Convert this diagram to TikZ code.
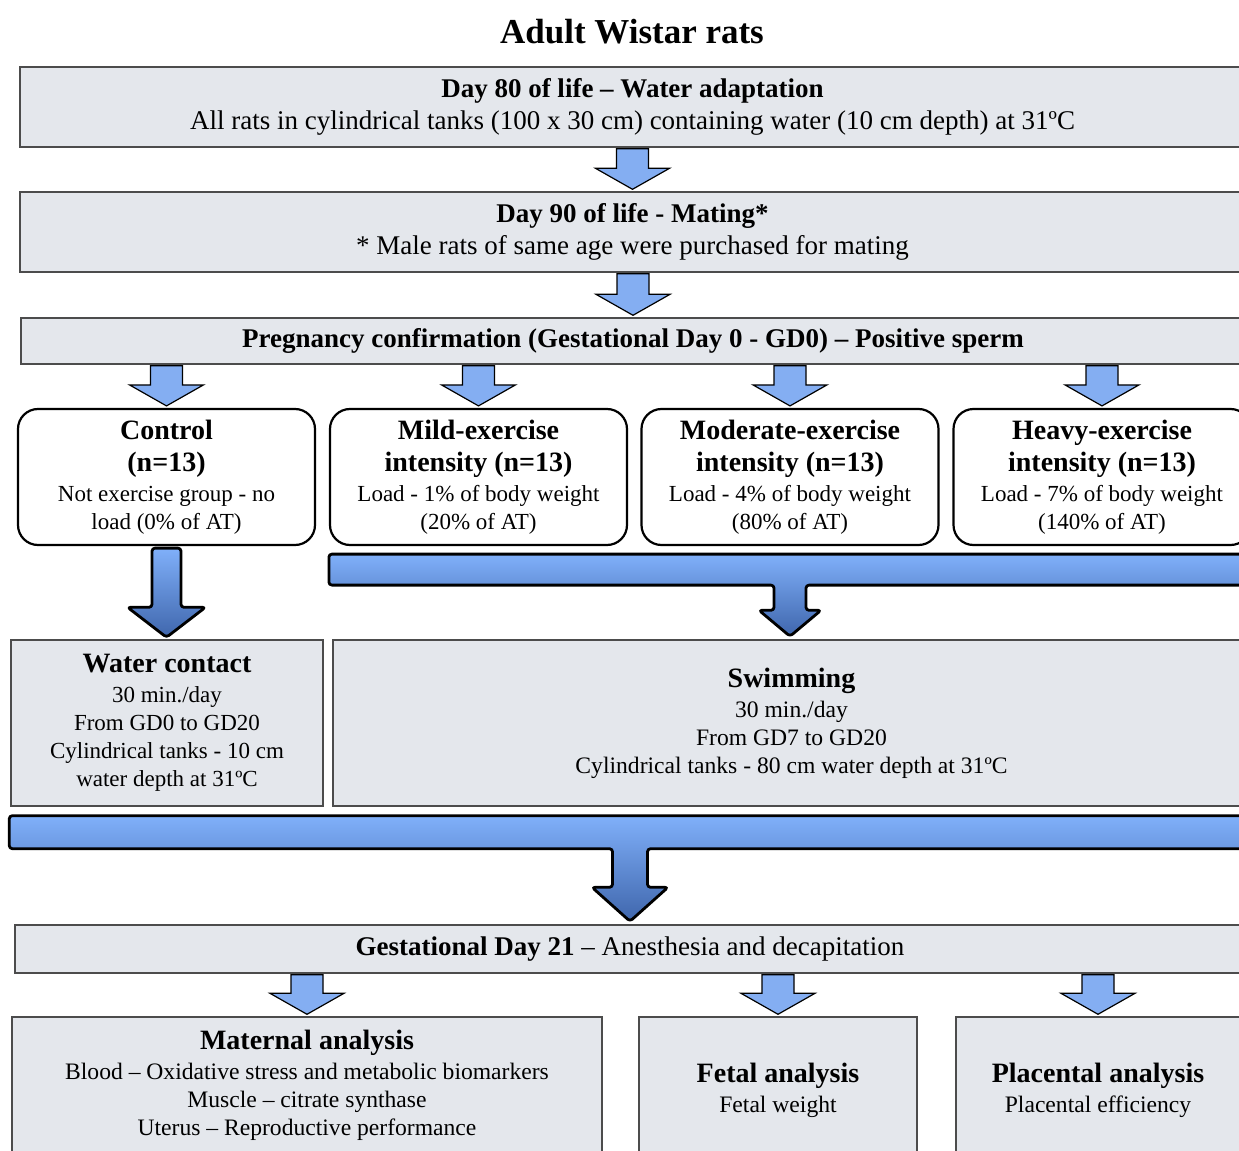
\documentclass[tikz,border=0pt]{standalone}
\usepackage{fontspec}
\setmainfont{Liberation Serif}
\usepackage{xcolor}
\usetikzlibrary{calc,positioning}

\definecolor{boxgrey}{HTML}{E4E7EC}
\definecolor{arrlight}{HTML}{84AEF2}
\definecolor{arrtop}{HTML}{80B0FA}
\definecolor{arrbot}{HTML}{3F66AC}

% small block arrow between two boxes
\newcommand{\smallarrow}[2]{%
  \draw[smallarr] let \p1=(#2.north), \p2=(#1.south) in
    (\x1-8pt,\y2-0.5pt) -- (\x1+8pt,\y2-0.5pt) -- (\x1+8pt,\y1+11.5pt)
    -- (\x1+18.5pt,\y1+11.5pt) -- (\x1,\y1+1pt) -- (\x1-18.5pt,\y1+11.5pt)
    -- (\x1-8pt,\y1+11.5pt) -- cycle;}

\begin{document}
\begin{tikzpicture}[
    x=0.5pt, y=-0.5pt,
    gbox/.style={draw=black!70, line width=0.7pt, fill=boxgrey, align=center, inner sep=0pt,
      font=\fontsize{13.5}{16}\selectfont},
    grp/.style={draw, rounded corners=10pt, line width=1.1pt, fill=white, align=center, inner sep=0pt,
      minimum width=148.5pt, minimum height=68pt, font=\fontsize{11.5}{14}\selectfont},
    smallarr/.style={draw=black, line width=0.6pt, fill=arrlight},
    bigarr/.style={draw=black, line width=1.4pt, top color=arrtop, bottom color=arrbot,
      rounded corners=1.5pt, line join=round}
]
\useasboundingbox (0,0) rectangle (1239,1151);
\clip (0,0) rectangle (1239,1151);

% Title
\node[font=\fontsize{17.5}{20}\selectfont\bfseries] (title) at (632,32) {Adult Wistar rats};

% Preparation steps
\node[gbox, minimum width=612.5pt, minimum height=40pt] (adapt) at (632.5,107)
  {\textbf{Day 80 of life – Water adaptation}\\All rats in cylindrical tanks (100 x 30 cm) containing water (10 cm depth) at 31ºC};
\node[gbox, minimum width=612.5pt, minimum height=40pt] (mating) at (632.5,232)
  {\textbf{Day 90 of life - Mating*}\\* Male rats of same age were purchased for mating};
\node[gbox, minimum width=612pt, minimum height=23pt, font=\fontsize{13.5}{16}\selectfont\bfseries] (preg) at (633,341)
  {Pregnancy confirmation (Gestational Day 0 - GD0) – Positive sperm};

\smallarrow{adapt}{mating}
\smallarrow{mating}{preg}

% Groups
\node[grp] (control) at (166.5,477)
  {{\fontsize{14}{16.5}\selectfont\bfseries Control}\\[2pt]{\fontsize{14}{16.5}\selectfont\bfseries (n=13)}\\[1pt]Not exercise group - no\\load (0\% of AT)};
\node[grp] (mild) at (478.5,477)
  {{\fontsize{14}{16.5}\selectfont\bfseries Mild-exercise}\\[2pt]{\fontsize{14}{16.5}\selectfont\bfseries intensity (n=13)}\\[1pt]Load - 1\% of body weight\\(20\% of AT)};
\node[grp] (moderate) at (790,477)
  {{\fontsize{14}{16.5}\selectfont\bfseries Moderate-exercise}\\[2pt]{\fontsize{14}{16.5}\selectfont\bfseries intensity (n=13)}\\[1pt]Load - 4\% of body weight\\(80\% of AT)};
\node[grp] (heavy) at (1102,477)
  {{\fontsize{14}{16.5}\selectfont\bfseries Heavy-exercise}\\[2pt]{\fontsize{14}{16.5}\selectfont\bfseries intensity (n=13)}\\[1pt]Load - 7\% of body weight\\(140\% of AT)};

\foreach \g in {control,mild,moderate,heavy}
  \smallarrow{preg}{\g};

% Protocols
\node[gbox, minimum width=156pt, minimum height=83pt, font=\fontsize{11.5}{14}\selectfont] (water) at (167,723)
  {{\fontsize{14}{16}\selectfont\bfseries Water contact}\\[1pt]30 min./day\\From GD0 to GD20\\Cylindrical tanks - 10 cm\\water depth at 31ºC};
\node[gbox, minimum width=458.5pt, minimum height=83pt, font=\fontsize{11.8}{14}\selectfont] (swim) at (791.5,723)
  {{\fontsize{14}{16}\selectfont\bfseries Swimming}\\[1pt]30 min./day\\From GD7 to GD20\\Cylindrical tanks - 80 cm water depth at 31ºC};

% control -> water contact
\draw[bigarr] let \p1=(control.south), \p2=(water.north) in
  (\x1-7.25pt,\y1-1pt) -- (\x1+7.25pt,\y1-1pt) -- (\x1+7.25pt,\y2+16pt) -- (\x1+19.5pt,\y2+16pt)
  -- (\x1,\y2+1pt) -- (\x1-19.5pt,\y2+16pt) -- (\x1-7.25pt,\y2+16pt) -- cycle;

% exercise groups -> swimming
\draw[bigarr] let \p1=(mild.south west), \p2=(swim.north), \p3=(moderate.south) in
  (\x1,\y1-4pt) -- (\x1+470pt,\y1-4pt) -- (\x1+470pt,\y1-19.5pt) -- (\x3+8pt,\y1-19.5pt)
  -- (\x3+8pt,\y2+14.5pt) -- (\x3+15.5pt,\y2+14.5pt) -- (\x3,\y2+1.5pt) -- (\x3-15.5pt,\y2+14.5pt)
  -- (\x3-8pt,\y2+14.5pt) -- (\x3-8pt,\y1-19.5pt) -- (\x1,\y1-19.5pt) -- cycle;

% End point
\node[gbox, minimum width=615pt, minimum height=24pt] (gd21) at (630,949)
  {\textbf{Gestational Day 21} – Anesthesia and decapitation};

% all protocols -> GD21
\draw[bigarr] let \p1=(water.south west), \p2=(gd21.north) in
  (\x1-0.5pt,\y1-4.5pt) -- (\x1+640pt,\y1-4.5pt) -- (\x1+640pt,\y1-21pt) -- (\x2+8.75pt,\y1-21pt)
  -- (\x2+8.75pt,\y2+18.5pt) -- (\x2+19pt,\y2+18.5pt) -- (\x2,\y2+1.5pt) -- (\x2-19pt,\y2+18.5pt)
  -- (\x2-8.75pt,\y2+18.5pt) -- (\x2-8.75pt,\y1-21pt) -- (\x1-0.5pt,\y1-21pt) -- cycle;

% Analyses
\node[gbox, minimum width=295pt, minimum height=68pt, font=\fontsize{11.8}{14}\selectfont] (maternal) at (307,1085)
  {{\fontsize{14}{16}\selectfont\bfseries Maternal analysis}\\[1pt]Blood – Oxidative stress and metabolic biomarkers\\Muscle – citrate synthase\\Uterus – Reproductive performance};
\node[gbox, minimum width=139pt, minimum height=73pt, font=\fontsize{11.8}{14}\selectfont] (fetal) at (778,1090)
  {{\fontsize{14}{16}\selectfont\bfseries Fetal analysis}\\[1pt]Fetal weight};
\node[gbox, minimum width=142pt, minimum height=73pt, font=\fontsize{11.8}{14}\selectfont] (placental) at (1098,1090)
  {{\fontsize{14}{16}\selectfont\bfseries Placental analysis}\\[1pt]Placental efficiency};

\foreach \a in {maternal,fetal,placental}
  \smallarrow{gd21}{\a};

\end{tikzpicture}
\end{document}
